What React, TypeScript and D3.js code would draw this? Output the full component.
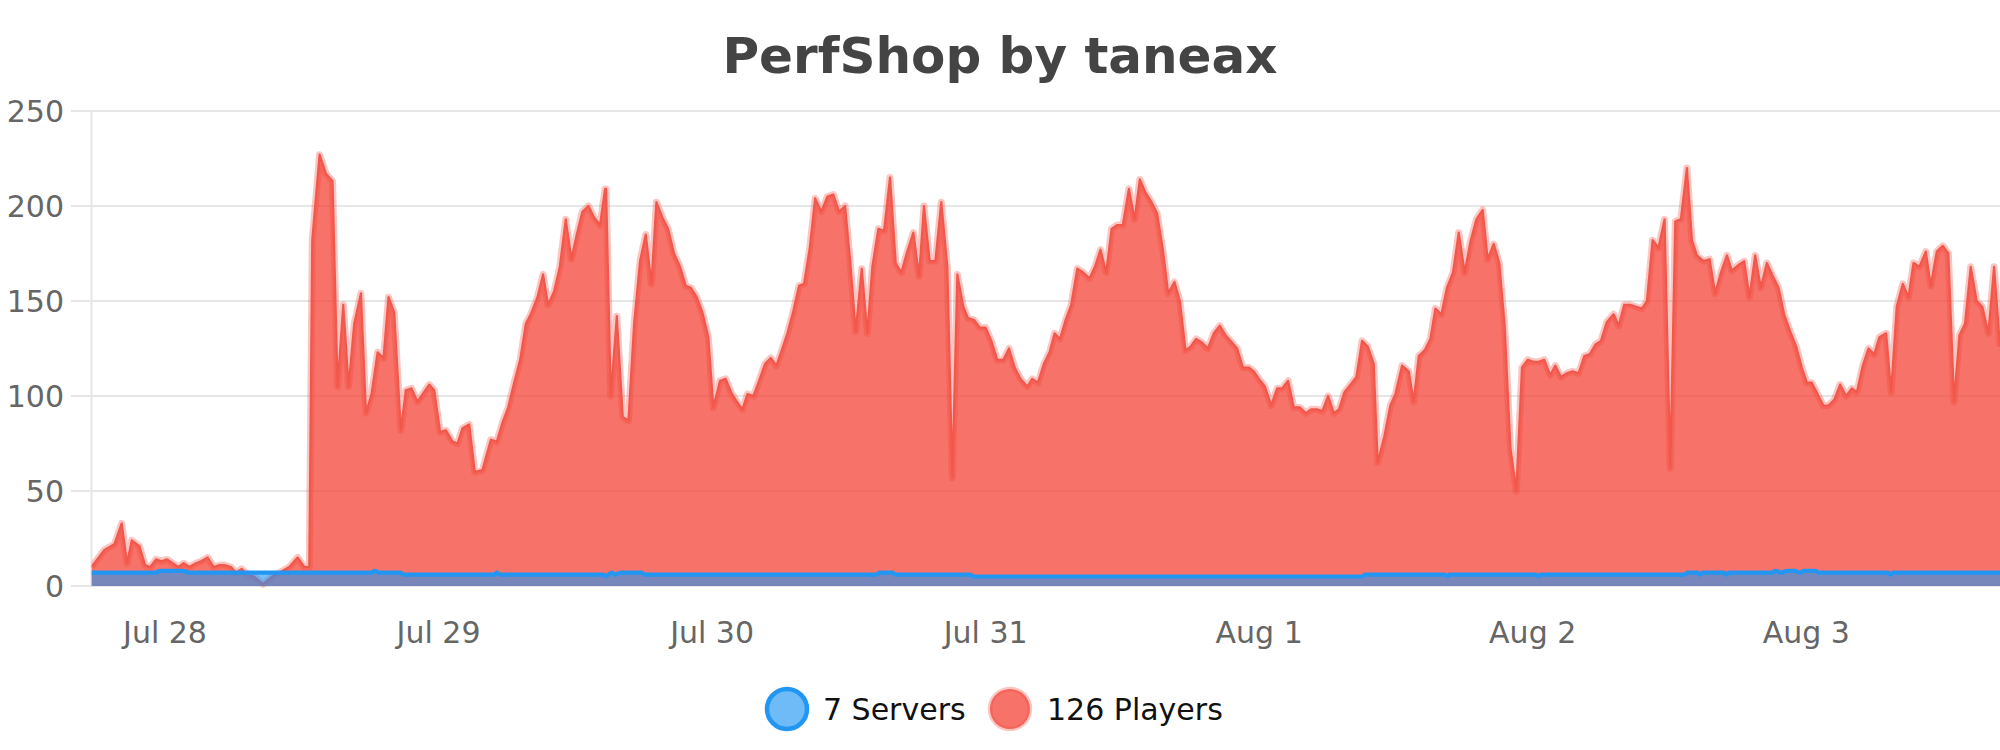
import React from "react";
import * as d3 from "d3";

// Hours relative to Jul 28 00:00 and player counts
const playerHours = [
  -6.45, -5.32, -4.44, -3.8, -3.33, -2.92, -2.25, -1.75, -1.29, -0.79, -0.29, 0.17, 0.67, 1.17, 1.64, 2.13,
  2.72, 3.16, 3.74, 4.27, 4.76, 5.2, 5.79, 6.23, 6.72, 7.25, 7.8, 8.6, 9.4, 10.32, 10.9, 11.63, 12.22, 12.66,
  12.92, 13.56, 14.12, 14.7, 15.14, 15.64, 16.11, 16.6, 17.19, 17.63, 18.12, 18.65, 19.17, 19.61, 20.11,
  20.69, 21.13, 21.63, 22.15, 23.18, 23.62, 24.14, 24.64, 25.22, 25.66, 26.1, 26.69, 27.18, 27.85, 28.59,
  29.11, 29.61, 30.11, 30.63, 31.16, 31.66, 32.09, 32.68, 33.17, 33.61, 34.14, 34.64, 35.16, 35.66, 36.13,
  36.62, 37.15, 37.65, 38.17, 38.61, 38.7, 39.11, 39.64, 40.16, 40.66, 41.16, 41.68, 42.18, 42.68, 43.11,
  43.64, 44.14, 44.66, 45.19, 45.69, 46.13, 46.65, 47.15, 47.67, 48.11, 48.7, 49.19, 49.67, 50.17, 50.66,
  51.1, 51.63, 52.12, 52.65, 53.15, 53.64, 54.11, 54.61, 55.14, 55.63, 56.07, 56.57, 57.04, 57.59, 58.12,
  58.64, 59.14, 59.67, 60.1, 60.6, 61.13, 61.62, 62.06, 62.59, 63.09, 63.61, 64.11, 64.61, 65.07, 65.66,
  66.16, 66.59, 67.09, 67.59, 68.11, 68.64, 69.08, 69.52, 70.04, 70.45, 70.98, 71.5, 72.0, 72.5, 73.02,
  73.55, 74.05, 74.55, 75.07, 75.66, 76.09, 76.59, 77.12, 77.61, 78.05, 78.52, 79.02, 79.51, 80.04, 80.56,
  81.12, 81.59, 82.08, 82.58, 83.05, 83.55, 84.04, 84.57, 85.07, 85.53, 86.03, 86.56, 87.05, 87.55, 88.02,
  88.57, 89.04, 89.54, 89.98, 90.47, 91.0, 91.5, 92.02, 92.55, 93.05, 93.63, 94.07, 94.57, 95.09, 95.53,
  95.97, 96.5, 97.05, 97.58, 98.02, 98.54, 99.04, 99.56, 100.09, 100.56, 101.08, 101.55, 102.05, 102.55,
  103.01, 103.48, 104.01, 104.53, 105.03, 105.53, 106.05, 106.4, 106.99, 107.51, 107.95, 108.54, 109.12,
  109.56, 110.0, 110.52, 111.02, 111.46, 111.99, 112.48, 113.01, 113.51, 114.03, 114.53, 115.06, 115.61,
  116.05, 116.58, 117.07, 117.54, 118.04, 118.56, 119.06, 119.56, 120.08, 120.52, 121.02, 121.54, 121.98,
  122.48, 123.0, 123.5, 124.03, 124.53, 125.0, 125.49, 125.99, 126.51, 127.1, 127.54, 128.03, 128.56,
  129.06, 129.58, 130.02, 130.52, 131.04, 131.57, 132.07, 132.51, 133.0, 133.53, 133.97, 134.4, 134.99,
  135.52, 136.01, 136.51, 137.04, 137.47, 138.06, 138.56, 139.02, 139.52, 140.02, 140.54, 141.07, 141.57,
  142.06, 142.59, 143.12, 143.61, 144.05, 144.49, 144.99, 145.51, 145.95, 146.45, 146.97, 147.5, 148.0,
  148.44, 148.96, 149.46, 149.96, 150.42, 151.01, 151.45, 151.94, 152.47, 152.97, 153.41, 153.93, 154.49,
  154.93, 155.45, 155.98, 156.47, 156.97, 157.44, 157.93, 158.43, 158.95, 159.45, 159.98, 160.48, 161.0,
];
const playerCounts = [
  10, 19, 22, 33, 12, 24, 21, 11, 10, 14, 13, 14, 12, 10, 12, 10,
  12, 13, 15, 10, 11, 11, 10, 7, 9, 6, 5, 1, 5, 8, 10, 15, 10, 10,
  182, 227, 217, 213, 105, 148, 105, 138, 154, 91, 101, 123, 120, 152, 144,
  82, 103, 104, 97, 106, 103, 81, 82, 76, 75, 83, 85, 60, 61, 77,
  76, 86, 94, 107, 119, 138, 143, 152, 164, 148, 155, 168, 193, 172, 185,
  197, 200, 194, 190, 209, 209, 100, 142, 89, 87, 138, 171, 185, 159, 202,
  194, 188, 175, 168, 158, 157, 152, 144, 131, 94, 108, 109, 102, 97, 93,
  101, 100, 108, 117, 120, 116, 124, 133, 145, 158, 159, 178, 204, 197, 205,
  206, 197, 200, 172, 134, 167, 133, 168, 188, 187, 215, 170, 165, 175, 186,
  163, 200, 171, 171, 202, 168, 57, 164, 147, 141, 140, 136, 136, 129, 119,
  119, 125, 115, 109, 105, 109, 107, 117, 123, 133, 130, 140, 148, 167, 165,
  162, 168, 177, 165, 188, 190, 190, 209, 193, 214, 207, 202, 196, 177, 154,
  160, 150, 124, 126, 130, 128, 125, 133, 137, 132, 128, 125, 115, 115, 113,
  109, 105, 95, 104, 104, 108, 94, 94, 91, 93, 93, 92, 100, 91,
  93, 102, 106, 110, 129, 126, 117, 65, 79, 95, 101, 116, 113,
  97, 121, 124, 130, 146, 143, 157, 165, 186, 165, 181, 193, 198,
  172, 180, 170, 137, 73, 50, 115, 119, 118, 118, 119, 111, 116,
  110, 112, 113, 112, 121, 122, 127, 129, 139, 143, 137, 148, 148,
  147, 146, 150, 182, 178, 193, 62, 192, 193, 220, 182, 174, 171,
  172, 154, 165, 174, 166, 169, 171, 152, 174, 157, 170, 163, 157,
  143, 134, 126, 115, 107, 107, 101, 95, 95, 98, 106, 100, 104,
  102, 116, 125, 122, 131, 133, 102, 147, 159, 152, 170, 168, 176,
  158, 176, 179, 175, 97, 132, 138, 168, 150, 147, 133, 168, 126,
];

const serverHours = [
  -6.45, -0.9, -0.4, 1.6, 2.1, 18.1, 18.4, 18.8, 20.6, 21.0, 28.9, 29.1, 29.4, 38.5, 38.7, 38.9, 39.2, 39.5,
  40.0, 41.8, 42.1, 62.4, 62.7, 63.8, 64.1, 70.6, 71.0, 105.0, 105.3, 112.3, 112.5, 112.7, 120.3, 120.5,
  120.7, 133.3, 133.6, 134.5, 134.7, 134.9, 136.8, 137.0, 137.2, 141.0, 141.3, 141.8, 142.3, 143.0, 143.4,
  143.8, 144.8, 145.1, 151.2, 151.4, 151.6, 161.0,
];
const serverCounts = [
  7, 7, 8, 8, 7, 7, 8, 7, 7, 6, 6, 7, 6, 6, 5, 6, 7, 6,
  7, 7, 6, 6, 7, 7, 6, 6, 5, 5, 6, 6, 5, 6, 6, 5,
  6, 6, 7, 7, 6, 7, 7, 6, 7, 7, 8, 7, 8, 8, 7,
  8, 8, 7, 7, 6, 7, 7,
];

const yTicks = [0, 50, 100, 150, 200, 250];
const dayLabels = ["Jul 28", "Jul 29", "Jul 30", "Jul 31", "Aug 1", "Aug 2", "Aug 3"];
const titleText = "PerfShop by taneax";
const legendLabels = ["7 Servers", "126 Players"];

const BASE = Date.UTC(2024, 6, 28);
const toDate = (h: number) => new Date(BASE + h * 3600e3);

export default function App() {
  const W = 2000;
  const H = 750;
  const left = 91.5;
  const right = 2000;
  const top = 111;
  const bottom = 586;

  const x = d3.scaleUtc().domain([toDate(-6.45), toDate(161)]).range([left, right]);
  const y = d3.scaleLinear().domain([0, 250]).range([bottom, top]);

  const players = playerHours.map((h, i) => ({ t: toDate(h), v: playerCounts[i] }));
  const servers = serverHours.map((h, i) => ({ t: toDate(h), v: serverCounts[i] }));

  const redArea = d3.area<any>().x((d) => x(d.t)).y0(y(0)).y1((d) => y(d.v))(players) || "";
  const redLine = d3.line<any>().x((d) => x(d.t)).y((d) => y(d.v))(players) || "";
  const blueArea = d3.area<any>().curve(d3.curveMonotoneX).x((d) => x(d.t)).y0(y(0)).y1((d) => y(d.v))(servers) || "";
  const blueLine = d3.line<any>().curve(d3.curveMonotoneX).x((d) => x(d.t)).y((d) => y(d.v))(servers) || "";

  const days = dayLabels.map((lab, i) => ({ lab, t: new Date(BASE + i * 86400e3) }));

  const font = "'DejaVu Sans', Verdana, sans-serif";

  return (
    <svg
      width={W}
      height={H}
      style={{ position: "absolute", left: 0, top: 0, background: "#fff" }}
      fontFamily={font}
    >
      <defs>
        <clipPath id="plot">
          <rect x={left} y={0} width={right - left} height={bottom + 2} />
        </clipPath>
      </defs>
      <text x={1000} y={73} textAnchor="middle" fontSize={50} fontWeight="bold" fill="#444">
        {titleText}
      </text>
      {yTicks.map((t) => (
        <g key={t}>
          <line x1={71} x2={right} y1={y(t)} y2={y(t)} stroke="#e6e6e6" strokeWidth={2} />
          <text x={64} y={y(t)} dy="0.36em" textAnchor="end" fontSize={30} fill="#666">
            {t}
          </text>
        </g>
      ))}
      <line x1={left} x2={left} y1={top} y2={bottom} stroke="#e6e6e6" strokeWidth={2} />
      {days.map((d) => (
        <text key={d.lab} x={x(d.t)} y={643} textAnchor="middle" fontSize={30} fill="#666">
          {d.lab}
        </text>
      ))}
      <g clipPath="url(#plot)">
        <path d={redArea} fill="rgba(244,67,54,0.75)" />
        <path d={redLine} fill="none" stroke="rgba(244,67,54,0.3)" strokeWidth={7} strokeLinejoin="round" />
        <path d={redLine} fill="none" stroke="#f2574c" strokeWidth={2.2} strokeLinejoin="round" />
        <path d={blueArea} fill="rgba(33,150,243,0.6)" />
        <path d={blueLine} fill="none" stroke="#2196f3" strokeWidth={4.2} />
      </g>
      <g>
        <circle cx={787} cy={709} r={20} fill="rgba(33,150,243,0.65)" stroke="#2196f3" strokeWidth={4.5} />
        <text x={823} y={720} fontSize={30} fill="#111">
          {legendLabels[0]}
        </text>
        <circle cx={1010} cy={709} r={20} fill="rgba(244,67,54,0.75)" stroke="rgba(244,67,54,0.3)" strokeWidth={4.5} />
        <text x={1047} y={720} fontSize={30} fill="#111">
          {legendLabels[1]}
        </text>
      </g>
    </svg>
  );
}
